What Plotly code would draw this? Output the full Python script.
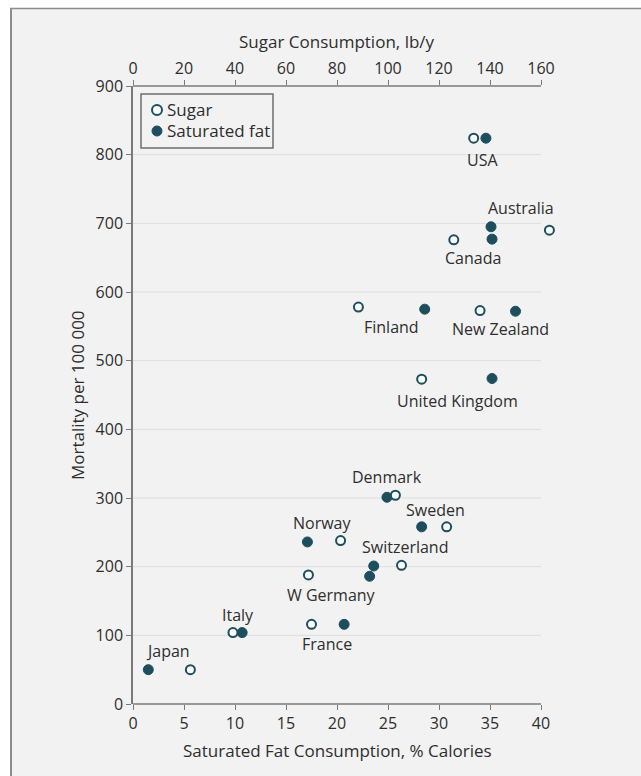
import plotly.graph_objects as go

# Data: per-country sugar / saturated-fat consumption vs. coronary mortality
countries = ["Japan", "Italy", "France", "W Germany", "Norway", "Switzerland", "Denmark",
             "Sweden", "Finland", "United Kingdom", "New Zealand", "Canada", "Australia", "USA"]
sat_fat_pct = [1.5, 10.7, 20.7, 23.2, 17.1, 23.6, 24.9, 28.3, 28.6, 35.2, 37.5, 35.2, 35.1, 34.6]
sugar_lb = [22.5, 39.2, 70.0, 68.8, 81.4, 105.3, 102.9, 123.0, 88.4, 113.2, 136.1, 125.8, 163.3, 133.6]
mortality_fat = [50, 104, 116, 186, 236, 201, 301, 258, 575, 474, 572, 677, 695, 824]
mortality_sugar = [50, 104, 116, 188, 238, 202, 304, 258, 578, 473, 573, 676, 690, 824]

fat_ticks = [0, 5, 10, 15, 20, 25, 30, 35, 40]
sugar_ticks = [0, 20, 40, 60, 80, 100, 120, 140, 160]
mort_ticks = [0, 100, 200, 300, 400, 500, 600, 700, 800, 900]

# Country label anchor points, in (fat %, mortality) axis units
label_pos = {
    "USA": (34.3, 792), "Australia": (38.0, 722), "Canada": (33.3, 650),
    "Finland": (25.3, 549), "New Zealand": (36.0, 546), "United Kingdom": (31.8, 441),
    "Denmark": (24.9, 330), "Sweden": (29.7, 283), "Norway": (18.6, 264),
    "Switzerland": (26.7, 229), "W Germany": (19.5, 159), "France": (19.0, 87),
    "Italy": (10.3, 129), "Japan": (3.4, 77),
}

TEAL = "#1d4e5d"
TEXT = "#2e2e2e"
AXIS = "#7a7a7a"
GRID = "#dedede"
BG = "#f2f2f2"
FONT = "Open Sans"

W, H = 641, 776
ML, MR, MT, MB = 133, 85, 86, 72
pw, ph = W - ML - MR, H - MT - MB
AXIS_PX = 408  # pixel length of the drawn 0-40 / 0-160 scales

# The plotting area runs a little past the last tick so the Australia sugar
# point (beyond 160 lb/y) stays visible; both x scales keep the same mapping.
FAT_MAX = fat_ticks[-1] * pw / AXIS_PX
SUGAR_MAX = sugar_ticks[-1] * pw / AXIS_PX


def px_x(px):
    return (px - ML) / pw


def px_y(py):
    return (H - MB - py) / ph


fig = go.Figure()

fig.add_trace(go.Scatter(
    x=sugar_lb, y=mortality_sugar, xaxis="x2", yaxis="y", mode="markers",
    name="Sugar", text=countries, showlegend=False,
    marker=dict(size=9, color="#fbfbfb", line=dict(color=TEAL, width=2)),
))
fig.add_trace(go.Scatter(
    x=sat_fat_pct, y=mortality_fat, xaxis="x", yaxis="y", mode="markers",
    name="Saturated fat", text=countries, showlegend=False,
    marker=dict(size=10, color=TEAL, line=dict(color=TEAL, width=1)),
))

for c in countries:
    lx, ly = label_pos[c]
    fig.add_annotation(x=lx, y=ly, xref="x", yref="y", text=c, showarrow=False,
                       font=dict(family=FONT, size=16, color=TEXT),
                       xanchor="center", yanchor="middle")

axis_common = dict(
    ticks="outside", ticklen=5, tickcolor=AXIS, tickwidth=1.2,
    tickfont=dict(family=FONT, size=16, color=TEXT),
    zeroline=False, showgrid=False,
)

fig.update_layout(
    width=W, height=H,
    margin=dict(l=ML, r=MR, t=MT, b=MB),
    paper_bgcolor=BG, plot_bgcolor=BG,
    font=dict(family=FONT, color=TEXT),
    showlegend=False,
    xaxis=dict(range=[0, FAT_MAX], tickvals=fat_ticks, showline=False, **axis_common),
    xaxis2=dict(range=[0, SUGAR_MAX], tickvals=sugar_ticks, overlaying="x", side="top",
                anchor="y", showline=False, **axis_common),
    yaxis=dict(range=[0, 900], tickvals=mort_ticks, showline=True, linecolor=AXIS,
               linewidth=1.5, **axis_common),
)

# Axis titles, centred on the labelled scale span
TITLE_FONT = dict(family=FONT, size=17, color=TEXT)
mid_x = px_x(ML + AXIS_PX / 2)
fig.add_annotation(x=mid_x, y=px_y(42), xref="paper", yref="paper", showarrow=False,
                   text="Sugar Consumption, lb/y", font=TITLE_FONT,
                   xanchor="center", yanchor="middle")
fig.add_annotation(x=mid_x, y=px_y(750), xref="paper", yref="paper", showarrow=False,
                   text="Saturated Fat Consumption, % Calories", font=TITLE_FONT,
                   xanchor="center", yanchor="middle")
fig.add_annotation(x=px_x(77), y=0.5, xref="paper", yref="paper", showarrow=False,
                   text="Mortality per 100 000", font=TITLE_FONT, textangle=-90,
                   xanchor="center", yanchor="middle")

# Horizontal gridlines, limited to the labelled 0-40 span
for v in mort_ticks[1:-1]:
    fig.add_shape(type="line", xref="x", yref="y", x0=0, x1=fat_ticks[-1], y0=v, y1=v,
                  line=dict(color=GRID, width=1), layer="below")

# Bottom and top axis rules ending at the last tick
fig.add_shape(type="line", xref="x", yref="paper", x0=0, x1=fat_ticks[-1], y0=0, y1=0,
              line=dict(color=AXIS, width=1.5), layer="above")
fig.add_shape(type="line", xref="x2", yref="paper", x0=0, x1=sugar_ticks[-1], y0=1, y1=1,
              line=dict(color=AXIS, width=1.5), layer="above")

# Legend box: frame, symbols and entry labels
fig.add_shape(type="rect", xref="paper", yref="paper",
              x0=px_x(141), x1=px_x(273), y0=px_y(148), y1=px_y(94),
              fillcolor=BG, line=dict(color="#6e6e6e", width=1.5), layer="above")
legend_entries = [
    ("Sugar", 110, dict(fillcolor="#fbfbfb", line=dict(color=TEAL, width=2))),
    ("Saturated fat", 131, dict(fillcolor=TEAL, line=dict(color=TEAL, width=1))),
]
for label, yy, style in legend_entries:
    fig.add_shape(type="circle", xref="paper", yref="paper",
                  xsizemode="pixel", ysizemode="pixel",
                  xanchor=px_x(157), yanchor=px_y(yy),
                  x0=-5, x1=5, y0=-5, y1=5, layer="above", **style)
    fig.add_annotation(x=px_x(165), y=px_y(yy), xref="paper", yref="paper",
                       text=label, showarrow=False, xanchor="left", yanchor="middle",
                       font=dict(family=FONT, size=17, color=TEXT))

# Outer frame: white strip on the left/top edges with a gray rule
fig.add_shape(type="rect", xref="paper", yref="paper",
              x0=px_x(0), x1=px_x(10), y0=px_y(H), y1=px_y(0),
              fillcolor="white", line=dict(width=0), layer="above")
fig.add_shape(type="rect", xref="paper", yref="paper",
              x0=px_x(0), x1=px_x(W), y0=px_y(8), y1=px_y(0),
              fillcolor="white", line=dict(width=0), layer="above")
fig.add_shape(type="line", xref="paper", yref="paper",
              x0=px_x(11), x1=px_x(11), y0=px_y(8), y1=px_y(H),
              line=dict(color="#8c8c8c", width=2), layer="above")
fig.add_shape(type="line", xref="paper", yref="paper",
              x0=px_x(10), x1=px_x(W), y0=px_y(8.5), y1=px_y(8.5),
              line=dict(color="#8c8c8c", width=1.5), layer="above")

fig.write_html("out.html")
